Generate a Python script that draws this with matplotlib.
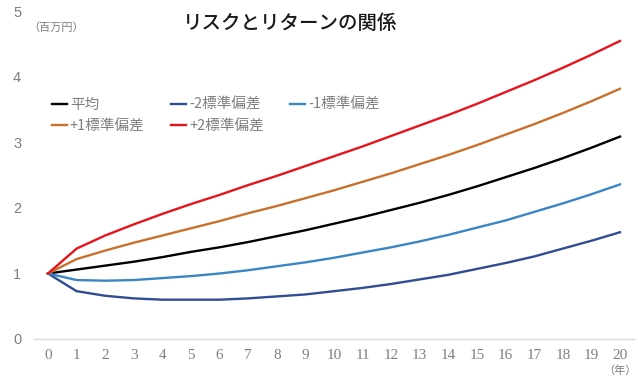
import matplotlib.pyplot as plt
import numpy as np

plt.rcParams['font.family'] = ['Noto Sans CJK JP', 'DejaVu Sans']

years = list(range(0, 21))

mean = [1.00, 1.06, 1.12, 1.18, 1.25, 1.33, 1.40, 1.48, 1.57, 1.66, 1.76,
        1.86, 1.97, 2.08, 2.20, 2.33, 2.47, 2.61, 2.76, 2.92, 3.09]
minus2 = [1.00, 0.73, 0.66, 0.62, 0.60, 0.60, 0.60, 0.62, 0.65, 0.68, 0.73,
          0.78, 0.84, 0.91, 0.98, 1.07, 1.16, 1.26, 1.38, 1.50, 1.63]
minus1 = [1.00, 0.90, 0.89, 0.90, 0.93, 0.96, 1.00, 1.05, 1.11, 1.17, 1.24,
          1.32, 1.40, 1.49, 1.59, 1.70, 1.81, 1.94, 2.07, 2.21, 2.36]
plus1 = [1.00, 1.22, 1.35, 1.47, 1.58, 1.69, 1.80, 1.92, 2.03, 2.15, 2.27,
         2.40, 2.53, 2.67, 2.81, 2.96, 3.12, 3.28, 3.45, 3.63, 3.82]
plus2 = [1.00, 1.38, 1.58, 1.75, 1.91, 2.06, 2.20, 2.35, 2.49, 2.64, 2.79,
         2.94, 3.10, 3.26, 3.42, 3.59, 3.77, 3.95, 4.14, 4.34, 4.55]

labels = ["平均", "-2標準偏差", "-1標準偏差", "+1標準偏差", "+2標準偏差"]
colors = ["#000000", "#2f4d94", "#3a85c4", "#c8702c", "#e8141c"]
series = [mean, minus2, minus1, plus1, plus2]

fig = plt.figure(figsize=(6.38, 3.84), dpi=100)
ax = fig.add_axes([0.0528, 0.1172, 0.9414, 0.8529])

handles = []
for s, c, lab in zip(series, colors, labels):
    h, = ax.plot(years, s, color=c, linewidth=1.7, label=lab)
    handles.append(h)

ax.set_xlim(-0.5, 20.5)
ax.set_ylim(0, 5)
ax.set_xticks(years)
ax.set_yticks(range(0, 6))
ax.tick_params(length=0, colors="#7f7f7f")
ax.tick_params(axis="x", pad=7)
ax.tick_params(axis="y", pad=9)
for t in ax.get_xticklabels():
    t.set_fontfamily("Liberation Serif")
    t.set_fontsize(11)
for t in ax.get_yticklabels():
    t.set_fontfamily("Liberation Sans")
    t.set_fontsize(10.5)

for side in ["top", "right", "left"]:
    ax.spines[side].set_visible(False)
ax.spines["bottom"].set_color("#d9d9d9")
ax.spines["bottom"].set_linewidth(1.0)

# row-major legend order: 平均, -2, -1 / +1, +2
order = [0, 3, 1, 4, 2]
leg = ax.legend([handles[i] for i in order], [labels[i] for i in order],
                ncol=3, loc="upper left", bbox_to_anchor=(0.02, 0.755),
                frameon=False, fontsize=10.5, handlelength=1.05,
                handletextpad=0.2, columnspacing=1.8, labelspacing=0.5,
                borderaxespad=0)
for t in leg.get_texts():
    t.set_color("#7f7f7f")

fig.text(0.455, 0.94, "リスクとリターンの関係", fontsize=14, fontweight="medium",
         ha="center", va="center", color="#1a1a1a")
fig.text(0.045, 0.927, "（百万円）", fontsize=8, ha="left", va="center",
         color="#7f7f7f")
fig.text(0.972, 0.035, "（年）", fontsize=8, ha="center", va="center",
         color="#7f7f7f")

plt.savefig("out.png", dpi=100)
plt.close()
